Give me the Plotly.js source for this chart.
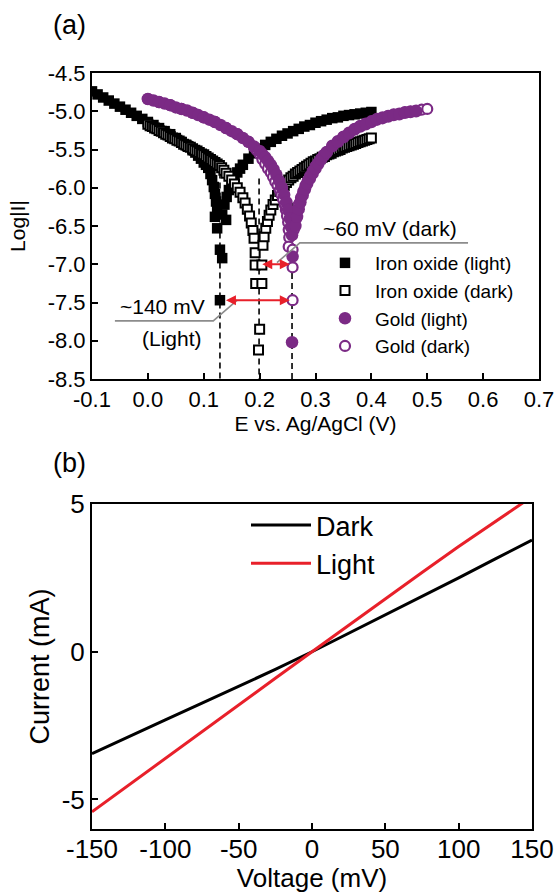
<!DOCTYPE html>
<html>
<head>
<meta charset="utf-8">
<script src="https://cdn.plot.ly/plotly-3.0.1.min.js"></script>
<style>html,body{margin:0;padding:0;background:#fff}#chart{width:558px;height:893px}</style>
</head>
<body>
<div id="chart"></div>
<script>
// ---------- Panel (a): Tafel data (E vs Ag/AgCl in V, log|I|) ----------
const feLightE = [-0.100,-0.090,-0.080,-0.070,-0.060,-0.050,-0.040,-0.030,-0.020,-0.010,0.000,0.010,0.020,0.030,0.040,0.050,0.060,0.070,0.080,0.085,0.090,0.095,0.100,0.104,0.108,0.112,0.115,0.118,0.120,0.122,0.124,
  0.120,0.124,0.129,0.133,0.129,0.140,
  0.133,0.137,0.141,0.145,0.150,0.155,0.160,0.165,0.170,0.180,0.190,0.200,0.210,0.220,0.230,0.240,0.250,0.260,0.270,0.280,0.290,0.300,0.310,0.320,0.330,0.340,0.350,0.360,0.370,0.380,0.390,0.400];
const feLightL = [-4.74,-4.78,-4.82,-4.86,-4.90,-4.94,-4.98,-5.02,-5.06,-5.10,-5.14,-5.18,-5.22,-5.26,-5.30,-5.35,-5.40,-5.45,-5.51,-5.54,-5.58,-5.62,-5.67,-5.70,-5.74,-5.82,-5.90,-5.99,-6.08,-6.18,-6.28,
  -6.38,-6.53,-6.81,-6.92,-7.47,-6.42,
  -6.35,-6.22,-6.12,-6.03,-5.94,-5.86,-5.80,-5.75,-5.70,-5.62,-5.55,-5.49,-5.44,-5.40,-5.36,-5.32,-5.29,-5.26,-5.23,-5.20,-5.18,-5.15,-5.13,-5.11,-5.09,-5.08,-5.06,-5.05,-5.04,-5.03,-5.02,-5.01];

const feDarkE = [0.000,0.004,0.008,0.012,0.016,0.020,0.024,0.028,0.032,0.036,0.040,0.044,0.048,0.052,0.056,0.060,0.064,0.068,0.072,0.076,0.080,0.084,0.088,0.092,0.096,0.100,0.104,0.108,0.112,0.116,0.120,0.124,0.128,0.132,0.136,0.140,0.145,0.150,0.155,0.160,0.165,0.170,0.174,0.178,0.182,0.185,0.188,0.190,
  0.192,0.192,0.204,0.193,0.204,0.200,0.198,
  0.206,0.208,0.211,0.214,0.217,0.220,0.224,0.228,0.232,0.236,0.240,0.244,0.248,0.252,0.256,0.260,0.264,0.268,0.272,0.276,0.280,0.284,0.288,0.292,0.296,0.300,0.304,0.308,0.312,0.316,0.320,0.324,0.328,0.332,0.336,0.340,0.344,0.348,0.352,0.356,0.360,0.364,0.368,0.372,0.376,0.380,0.384,0.388,0.392,0.396,0.400];
const feDarkL = [-5.17,-5.19,-5.20,-5.22,-5.23,-5.25,-5.26,-5.28,-5.30,-5.31,-5.33,-5.35,-5.36,-5.38,-5.39,-5.41,-5.43,-5.44,-5.46,-5.47,-5.49,-5.51,-5.52,-5.54,-5.56,-5.57,-5.59,-5.61,-5.63,-5.65,-5.67,-5.69,-5.71,-5.74,-5.77,-5.81,-5.85,-5.90,-5.95,-6.00,-6.06,-6.13,-6.20,-6.28,-6.37,-6.46,-6.56,-6.66,
  -6.85,-7.01,-7.01,-7.25,-7.25,-7.85,-8.12,
  -6.75,-6.64,-6.53,-6.44,-6.36,-6.29,-6.22,-6.16,-6.10,-6.05,-6.00,-5.97,-5.93,-5.90,-5.87,-5.85,-5.82,-5.80,-5.78,-5.76,-5.74,-5.72,-5.70,-5.68,-5.66,-5.65,-5.63,-5.62,-5.60,-5.59,-5.57,-5.56,-5.55,-5.53,-5.52,-5.51,-5.50,-5.48,-5.47,-5.46,-5.45,-5.44,-5.43,-5.42,-5.41,-5.40,-5.39,-5.38,-5.37,-5.36,-5.35];

const auLightE = [0.000,0.010,0.020,0.030,0.040,0.050,0.060,0.070,0.080,0.090,0.100,0.110,0.120,0.130,0.140,0.150,0.160,0.170,0.180,0.190,0.200,0.205,0.210,0.215,0.220,0.225,0.230,0.235,0.240,0.244,0.248,0.251,0.254,0.256,0.258,0.259,0.258,
  0.264,0.267,0.270,0.273,0.277,0.281,0.285,0.290,0.295,0.300,0.305,0.310,0.315,0.320,0.330,0.340,0.350,0.360,0.370,0.380,0.390,0.400,0.410,0.420,0.430,0.440,0.450,0.460,0.470,0.480];
const auLightL = [-4.84,-4.86,-4.88,-4.90,-4.92,-4.95,-4.97,-4.99,-5.02,-5.05,-5.08,-5.11,-5.14,-5.18,-5.22,-5.26,-5.30,-5.35,-5.40,-5.46,-5.52,-5.56,-5.60,-5.65,-5.70,-5.76,-5.83,-5.91,-6.00,-6.09,-6.19,-6.29,-6.40,-6.51,-6.62,-6.90,-8.02,
  -6.50,-6.38,-6.28,-6.19,-6.10,-6.02,-5.95,-5.88,-5.81,-5.75,-5.69,-5.63,-5.58,-5.54,-5.46,-5.40,-5.34,-5.29,-5.24,-5.20,-5.17,-5.14,-5.11,-5.09,-5.07,-5.05,-5.04,-5.02,-5.01,-5.00];

const auDarkE = [0.000,0.020,0.040,0.060,0.080,0.100,0.120,0.140,0.160,0.180,0.190,0.195,0.200,0.205,0.210,0.215,0.220,0.224,0.228,0.232,0.236,0.239,0.242,0.245,0.247,0.249,0.251,0.252,0.253,0.252,0.259,0.259,0.259,
  0.261,0.264,0.267,0.270,0.274,0.278,0.282,0.286,0.290,0.295,0.300,0.305,0.310,0.315,0.320,0.330,0.340,0.350,0.360,0.370,0.380,0.390,0.400,0.410,0.420,0.430,0.440,0.450,0.460,0.470,0.480,0.490,0.500];
const auDarkL = [-4.84,-4.88,-4.92,-4.97,-5.02,-5.08,-5.14,-5.22,-5.30,-5.40,-5.47,-5.51,-5.56,-5.63,-5.69,-5.75,-5.80,-5.86,-5.92,-5.97,-6.03,-6.09,-6.15,-6.22,-6.29,-6.37,-6.45,-6.55,-6.65,-6.77,-6.81,-7.04,-7.47,
  -6.55,-6.42,-6.31,-6.22,-6.13,-6.05,-5.97,-5.91,-5.85,-5.78,-5.72,-5.67,-5.62,-5.57,-5.53,-5.45,-5.39,-5.33,-5.28,-5.23,-5.19,-5.16,-5.13,-5.10,-5.08,-5.06,-5.04,-5.03,-5.01,-5.00,-4.99,-4.98,-4.97];

const xTicksA = [-0.1,0.0,0.1,0.2,0.3,0.4,0.5,0.6,0.7];
const yTicksA = [-8.5,-8.0,-7.5,-7.0,-6.5,-6.0,-5.5,-5.0,-4.5];

// Guide lines: vertical dashed lines at the corrosion potentials
const dashE = [0.129, 0.199, 0.258];
const dashTop = [-5.80, -5.88, -6.20];
// Red double arrows (shift between potentials)
const arrowFrom = [0.202, 0.137];
const arrowTo = [0.254, 0.254];
const arrowL = [-7.00, -7.47];
// Gray callout leaders
const call60E = [0.231, 0.272, 0.573];
const call60L = [-6.98, -6.72, -6.72];
const call140E = [0.160, 0.117, -0.059];
const call140L = [-7.47, -7.74, -7.74];

// ---------- Panel (b): I-V curves ----------
const voltage = [-150,-125,-100,-75,-50,-25,0,25,50,75,100,125,150];
const darkCurrent = [-3.45,-2.87,-2.31,-1.74,-1.18,-0.60,0.00,0.62,1.24,1.87,2.50,3.14,3.78];
const lightCurrent = [-5.42,-4.51,-3.62,-2.71,-1.81,-0.90,0.00,0.90,1.79,2.68,3.56,4.42,5.25];
const xTicksB = [-150,-100,-50,0,50,100,150];
const yTicksB = [-5,0,5];

const PURPLE = '#7b2a85';
const RED = '#e8202a';
const FONT = 'Liberation Sans, Arial, sans-serif';
const W = 558, H = 893;

const traces = [
  {x: feLightE, y: feLightL, type: 'scatter', mode: 'markers', name: 'Iron oxide (light)', legendrank: 1,
   marker: {symbol: 'square', size: 10.5, color: '#000', line: {width: 0}}, xaxis: 'x', yaxis: 'y', legend: 'legend'},
  {x: feDarkE, y: feDarkL, type: 'scatter', mode: 'markers', name: 'Iron oxide (dark)', legendrank: 2,
   marker: {symbol: 'square', size: 9, color: '#fff', line: {width: 2, color: '#000'}}, xaxis: 'x', yaxis: 'y', legend: 'legend'},
  {x: auDarkE, y: auDarkL, type: 'scatter', mode: 'markers', name: 'Gold (dark)', legendrank: 4,
   marker: {symbol: 'circle', size: 10, color: '#fff', line: {width: 2.2, color: PURPLE}}, xaxis: 'x', yaxis: 'y', legend: 'legend'},
  {x: auLightE, y: auLightL, type: 'scatter', mode: 'markers', name: 'Gold (light)', legendrank: 3,
   marker: {symbol: 'circle', size: 12.5, color: PURPLE, line: {width: 0}}, xaxis: 'x', yaxis: 'y', legend: 'legend'},
  {x: voltage, y: darkCurrent, type: 'scatter', mode: 'lines', name: 'Dark', legendrank: 1,
   line: {color: '#000', width: 3}, xaxis: 'x2', yaxis: 'y2', legend: 'legend2'},
  {x: voltage, y: lightCurrent, type: 'scatter', mode: 'lines', name: 'Light', legendrank: 2,
   line: {color: RED, width: 3}, xaxis: 'x2', yaxis: 'y2', legend: 'legend2'}
];

const shapes = [];
dashE.forEach((e, i) => shapes.push({type: 'line', xref: 'x', yref: 'y', x0: e, x1: e, y0: dashTop[i], y1: -8.5,
  line: {color: '#000', width: 1.6, dash: '6px,4px'}, layer: 'below'}));
function pathOf(xs, ys) { return xs.map((v, i) => (i ? 'L' : 'M') + v + ',' + ys[i]).join(' '); }
shapes.push({type: 'path', xref: 'x', yref: 'y', path: pathOf(call60E, call60L), line: {color: '#8c8c8c', width: 1.6}});
shapes.push({type: 'path', xref: 'x', yref: 'y', path: pathOf(call140E, call140L), line: {color: '#8c8c8c', width: 1.6}});

const annotations = [];
arrowL.forEach((l, i) => annotations.push({xref: 'x', yref: 'y', axref: 'x', ayref: 'y', x: arrowTo[i], y: l, ax: arrowFrom[i], ay: l,
  text: '', showarrow: true, arrowhead: 2, arrowside: 'end+start', arrowsize: 1, arrowwidth: 2, arrowcolor: RED, standoff: 0, startstandoff: 0}));
const txt = (x, y, t, ref, size) => ({xref: ref, yref: ref === 'x' ? 'y' : 'paper', x: x, y: y, text: t, showarrow: false,
  xanchor: 'center', yanchor: 'middle', font: {size: size}});
annotations.push(txt(0.433, -6.53, '~60 mV (dark)', 'x', 21));
annotations.push(txt(0.027, -7.55, '~140 mV', 'x', 21));
annotations.push(txt(0.043, -7.97, '(Light)', 'x', 21));
annotations.push(txt(69 / W, 1 - 25 / H, '(a)', 'paper', 27));
annotations.push(txt(69 / W, 1 - 463 / H, '(b)', 'paper', 27));

const axBase = {showline: true, linecolor: '#000', linewidth: 2, mirror: true, ticks: 'inside', ticklen: 6, tickwidth: 2,
  tickcolor: '#000', showgrid: false, zeroline: false, automargin: false};

const layout = {
  width: W, height: H, margin: {l: 0, r: 0, t: 0, b: 0}, paper_bgcolor: '#fff', plot_bgcolor: '#fff',
  font: {family: FONT, color: '#000', size: 21},
  showlegend: true,
  xaxis: Object.assign({}, axBase, {domain: [92 / W, 539 / W], range: [-0.1, 0.7], anchor: 'y',
    tickvals: xTicksA, ticktext: xTicksA.map(v => v.toFixed(1)), tickfont: {size: 22},
    title: {text: 'E vs. Ag/AgCl (V)', font: {size: 21}, standoff: 2}}),
  yaxis: Object.assign({}, axBase, {domain: [1 - 379 / H, 1 - 73 / H], range: [-8.5, -4.5], anchor: 'x',
    tickvals: yTicksA, ticktext: yTicksA.map(v => v.toFixed(1)), tickfont: {size: 22},
    title: {text: 'Log|I|', font: {size: 21}, standoff: 16}}),
  xaxis2: Object.assign({}, axBase, {domain: [92 / W, 532 / W], range: [-150, 150], anchor: 'y2',
    tickvals: xTicksB, ticktext: xTicksB.map(String), tickfont: {size: 26}, ticklabelstandoff: -4,
    title: {text: 'Voltage (mV)', font: {size: 26}, standoff: 6}}),
  yaxis2: Object.assign({}, axBase, {domain: [1 - 829 / H, 1 - 504 / H], range: [-6, 5], anchor: 'x2',
    tickvals: yTicksB, ticktext: yTicksB.map(String), tickfont: {size: 26},
    title: {text: 'Current (mA)', font: {size: 27}, standoff: 4}}),
  legend: {x: 315 / W, y: 1 - 244 / H, xanchor: 'left', yanchor: 'top', bgcolor: 'rgba(0,0,0,0)', borderwidth: 0,
    font: {size: 19}, itemwidth: 50, tracegroupgap: 0, traceorder: 'normal'},
  legend2: {x: 246 / W, y: 1 - 501 / H, xanchor: 'left', yanchor: 'top', bgcolor: 'rgba(0,0,0,0)', borderwidth: 0,
    font: {size: 27}, itemwidth: 60, traceorder: 'normal'},
  shapes: shapes,
  annotations: annotations
};

Plotly.newPlot('chart', traces, layout, {displayModeBar: false, staticPlot: true});
</script>
</body>
</html>
